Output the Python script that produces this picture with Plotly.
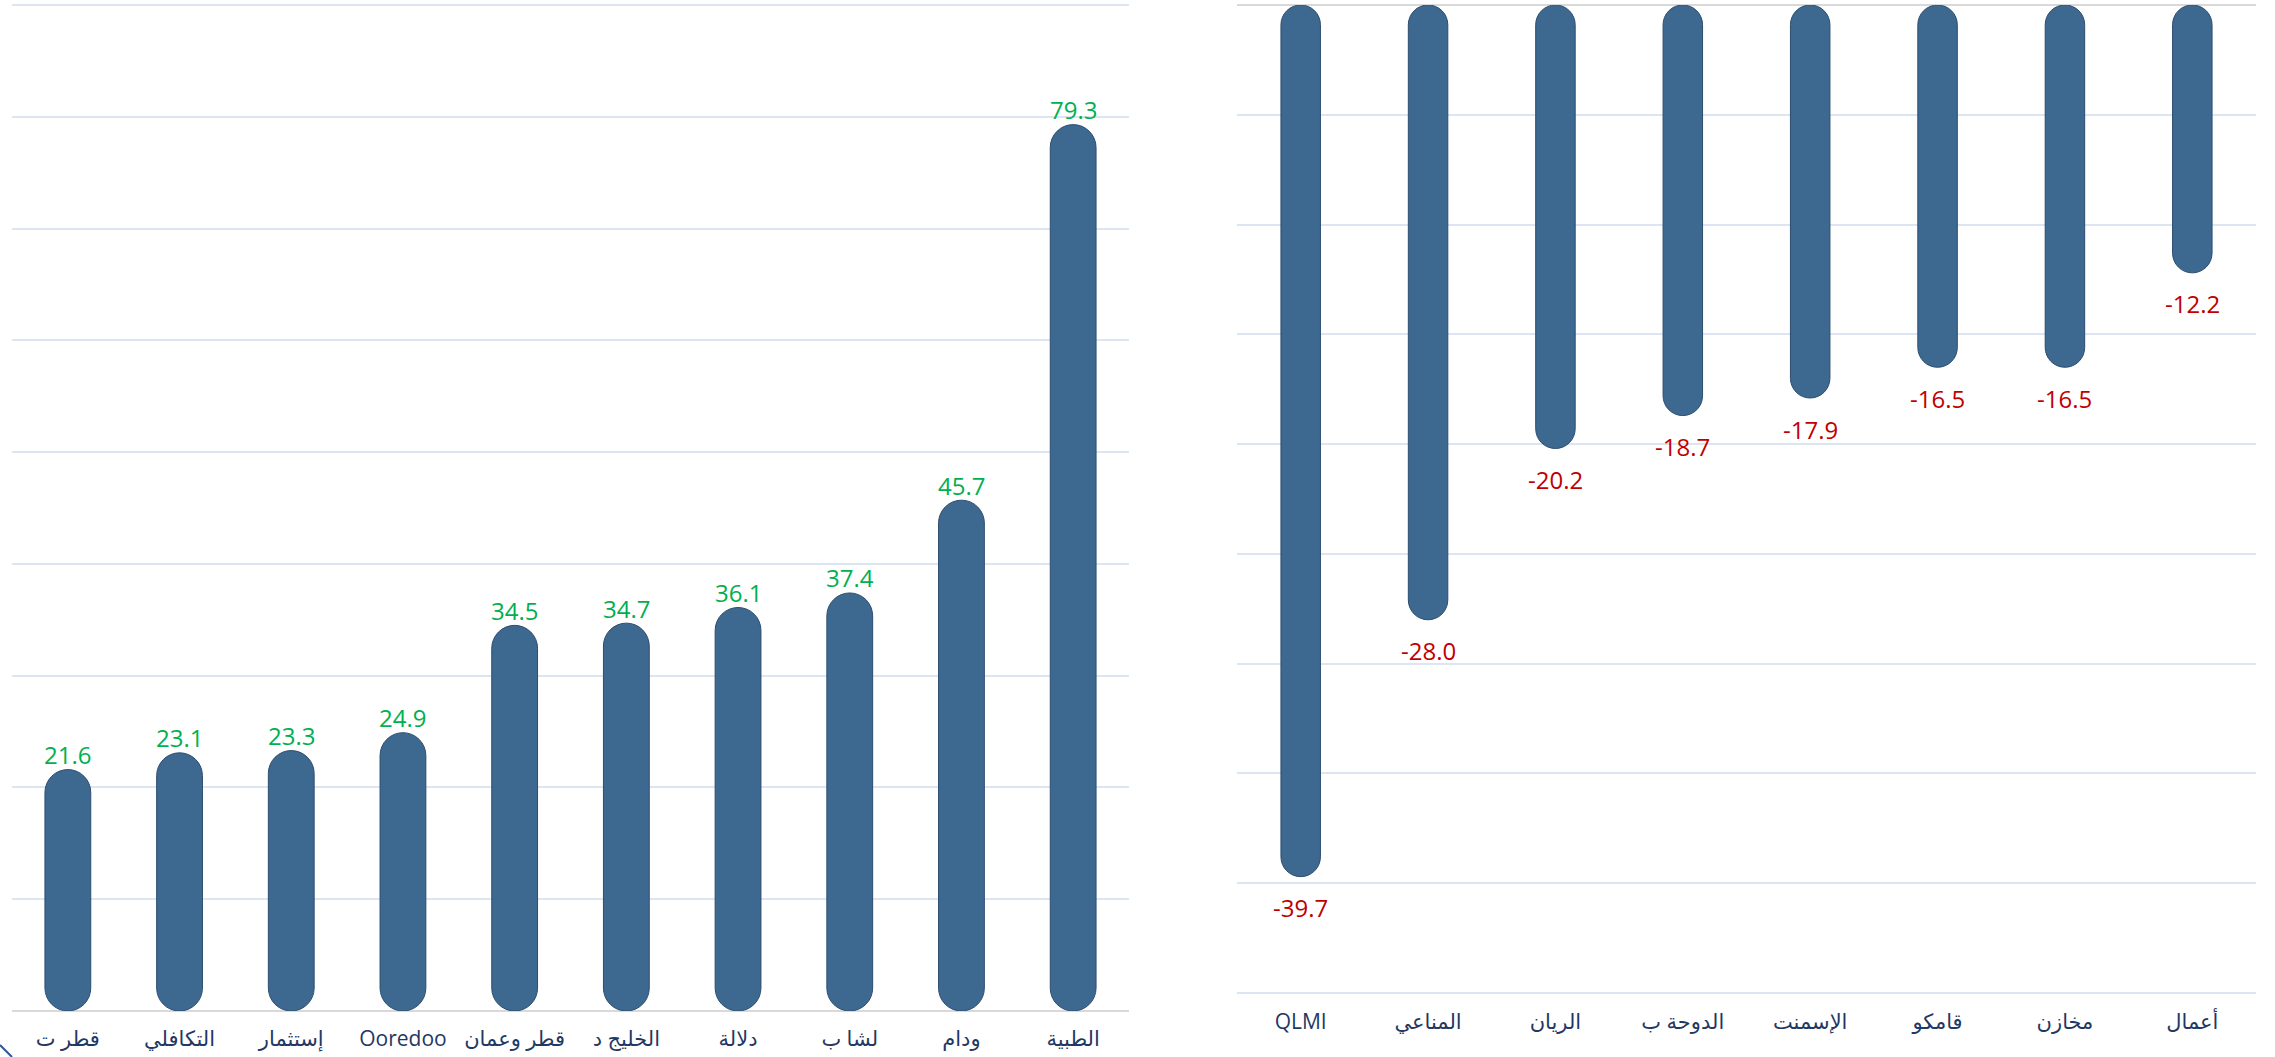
import plotly.graph_objects as go

# ---- data ----
left_categories = ["قطر ت", "التكافلي", "إستثمار", "Ooredoo", "قطر وعمان",
                   "الخليج د", "دلالة", "لشا ب", "ودام", "الطبية"]
left_values = [21.6, 23.1, 23.3, 24.9, 34.5, 34.7, 36.1, 37.4, 45.7, 79.3]

right_categories = ["QLMI", "المناعي", "الريان", "الدوحة ب", "الإسمنت",
                    "قامكو", "مخازن", "أعمال"]
right_values = [-39.7, -28.0, -20.2, -18.7, -17.9, -16.5, -16.5, -12.2]

# ---- styles ----
BAR = "#3D6991"
EDGE = "#2C4C6E"
GREEN = "#00B050"
RED = "#C00000"
NAVY = "#1F3864"
GRID = "#DCE6F2"
ZERO = "#D9D9D9"
FONT = "Open Sans, DejaVu Sans, sans-serif"

fig = go.Figure()


def pill(cats, vals, xa, ya, width):
    fig.add_trace(go.Bar(x=cats, y=vals, base=[0] * len(vals),
                         width=width,
                         marker=dict(color=BAR, line=dict(width=1, color=EDGE), cornerradius="50%"),
                         xaxis=xa, yaxis=ya, showlegend=False, hoverinfo="skip"))


pill(left_categories, left_values, "x", "y", 0.41)
pill(right_categories, right_values, "x2", "y2", 0.31)

annotations = []
for c, v in zip(left_categories, left_values):
    annotations.append(dict(x=c, y=v, xref="x", yref="y", text=f"{v:.1f}", showarrow=False,
                            yanchor="middle", yshift=15,
                            font=dict(family=FONT, size=24, color=GREEN)))
for c, v in zip(right_categories, right_values):
    annotations.append(dict(x=c, y=v, xref="x2", yref="y2", text=f"{v:.1f}", showarrow=False,
                            yanchor="middle", yshift=-31,
                            font=dict(family=FONT, size=24, color=RED)))

W, H = 2275, 1057
# left: 0 at y=1011px, 90 at y=5px ; range padded so the 90 gridline is kept
lpu = (1011 - 5) / 90
ltop = 90.3
# right: 0 at y=5px, -45 at y=993px
rpu = (993 - 5) / 45
rbot = -45.3
fig.update_layout(
    width=W, height=H,
    margin=dict(l=0, r=0, t=0, b=0),
    paper_bgcolor="white", plot_bgcolor="white",
    barmode="overlay",
    annotations=annotations,
    xaxis=dict(domain=[12 / W, 1129 / W], anchor="y", showgrid=False, zeroline=False,
               showline=False, ticks="outside", ticklen=9, tickcolor="rgba(0,0,0,0)",
               tickfont=dict(family=FONT, size=21, color=NAVY), fixedrange=True),
    yaxis=dict(domain=[(H - 1011) / H, (H - 1011 + ltop * lpu) / H], anchor="x", range=[0, ltop],
               tickvals=[10, 20, 30, 40, 50, 60, 70, 80, 90],
               showgrid=True, gridcolor=GRID, gridwidth=2, zeroline=True, zerolinecolor=ZERO,
               zerolinewidth=2, showticklabels=False, showline=False),
    xaxis2=dict(domain=[1237 / W, 2256 / W], anchor="free", position=(H - 993) / H,
                showgrid=False, zeroline=False,
                showline=False, ticks="outside", ticklen=10, tickcolor="rgba(0,0,0,0)",
                tickfont=dict(family=FONT, size=21, color=NAVY)),
    yaxis2=dict(domain=[(H - 5 + rbot * rpu) / H, (H - 5) / H], anchor="x2", range=[rbot, 0],
                tickvals=[-45, -40, -35, -30, -25, -20, -15, -10, -5],
                showgrid=True, gridcolor=GRID, gridwidth=2, zeroline=True, zerolinecolor=ZERO,
                zerolinewidth=2, showticklabels=False, showline=False),
    shapes=[dict(type="line", xref="paper", yref="paper", x0=0, y0=12 / H, x1=12 / W, y1=0,
                 line=dict(color="#2F5597", width=2))],
)

fig.write_html("out.html", config={"displayModeBar": False},
               post_script="document.body.style.margin='0';document.body.style.overflow='hidden';")
